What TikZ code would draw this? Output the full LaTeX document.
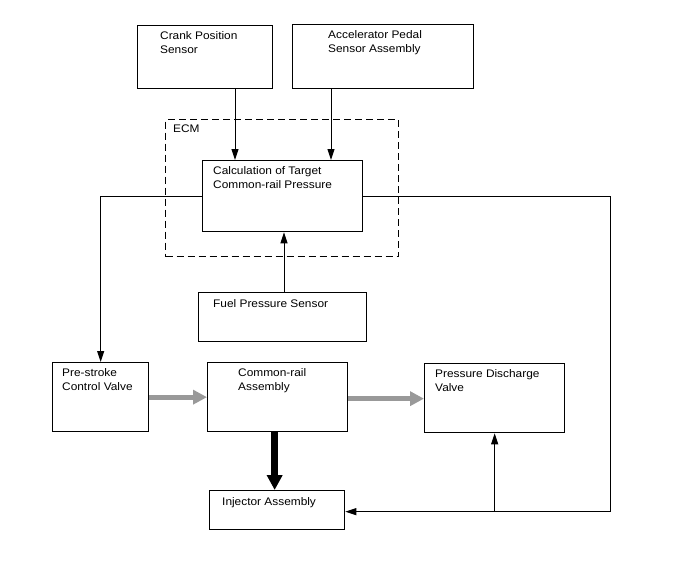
\documentclass[tikz,border=0pt]{standalone}
\usepackage{fontspec}
\setmainfont{Liberation Sans}[FakeStretch=1.08]
\usetikzlibrary{arrows.meta}

\tikzset{
  box/.style={draw, line width=1.3pt, anchor=north west, inner sep=0pt},
  lbl/.style={anchor=north west, inner sep=0pt, align=left, font=\fontsize{11}{14}\selectfont},
  sig/.style={line width=1pt, -{Triangle[length=11pt, width=7pt]}},
  flow/.style={line width=5pt, draw=black!40, -{Triangle[length=14pt, width=14pt]}},
  inject/.style={line width=7pt, -{Triangle[length=15pt, width=15pt]}}
}

\begin{document}
\begin{tikzpicture}[x=1pt, y=-1pt]
    \useasboundingbox (0,0) rectangle (688,560);

    % ECM frame
    \node[box, dashed, line width=1.2pt, dash pattern=on 7pt off 4pt, minimum width=233pt, minimum height=137pt] (ecm) at (165,119) {};
    \node[lbl] (ecmlbl) at ([xshift=8pt, yshift=-6pt]ecm.north west) {ECM};

    % blocks
    \node[box, minimum width=135pt, minimum height=63pt] (crank) at (137,25) {};
    \node[box, minimum width=181pt, minimum height=64pt] (accel) at (292,24) {};
    \node[box, minimum width=160pt, minimum height=71pt] (calc) at (202,160) {};
    \node[box, minimum width=168pt, minimum height=49pt] (fuel) at (198,292) {};
    \node[box, minimum width=96pt, minimum height=69pt] (pre) at (52,362) {};
    \node[box, minimum width=140pt, minimum height=69pt] (rail) at (207,362) {};
    \node[box, minimum width=140pt, minimum height=69pt] (pdv) at (424,363) {};
    \node[box, minimum width=135pt, minimum height=39pt] (inj) at (209,490) {};
    \coordinate (rgt) at (610,300);

    % texts
    \node[lbl] (cranklbl) at ([xshift=23pt, yshift=-6pt]crank.north west) {Crank Position\\Sensor};
    \node[lbl] (accellbl) at ([xshift=36pt, yshift=-6pt]accel.north west) {Accelerator Pedal\\Sensor Assembly};
    \node[lbl] (calclbl) at ([xshift=11pt, yshift=-6pt]calc.north west) {Calculation of Target\\Common-rail Pressure};
    \node[lbl] (fuellbl) at ([xshift=15pt, yshift=-7pt]fuel.north west) {Fuel Pressure Sensor};
    \node[lbl] (prelbl) at ([xshift=10pt, yshift=-6pt]pre.north west) {Pre-stroke\\Control Valve};
    \node[lbl] (raillbl) at ([xshift=31pt, yshift=-6pt]rail.north west) {Common-rail\\Assembly};
    \node[lbl] (pdvlbl) at ([xshift=11pt, yshift=-6pt]pdv.north west) {Pressure Discharge\\Valve};
    \node[lbl] (injlbl) at ([xshift=13pt, yshift=-7pt]inj.north west) {Injector Assembly};

    % signals
    \draw[sig] ([xshift=98pt]crank.south west) -- ([xshift=33pt]calc.north west);
    \draw[sig] ([xshift=39pt]accel.south west) -- ([xshift=129pt]calc.north west);
    \draw[sig] ([xshift=86pt]fuel.north west) -- ([xshift=82pt]calc.south west);
    \draw[sig] (calc.west) -| (pre.north);
    \draw[sig] (calc.east) -- (calc.east -| rgt) |- ([yshift=-1.5pt]inj.east);
    \draw[sig] ([yshift=-1.5pt]inj.east -| pdv.south) -- (pdv.south);

    % fuel flow
    \draw[flow] (pre.east) -- (pre.east -| rail.west);
    \draw[flow] ([yshift=-1.5pt]rail.east) -- ([yshift=-1.5pt]rail.east -| pdv.west);
    \draw[inject] ([xshift=-3pt]rail.south) -- ([xshift=-3pt]rail.south |- inj.north);
\end{tikzpicture}
\end{document}
